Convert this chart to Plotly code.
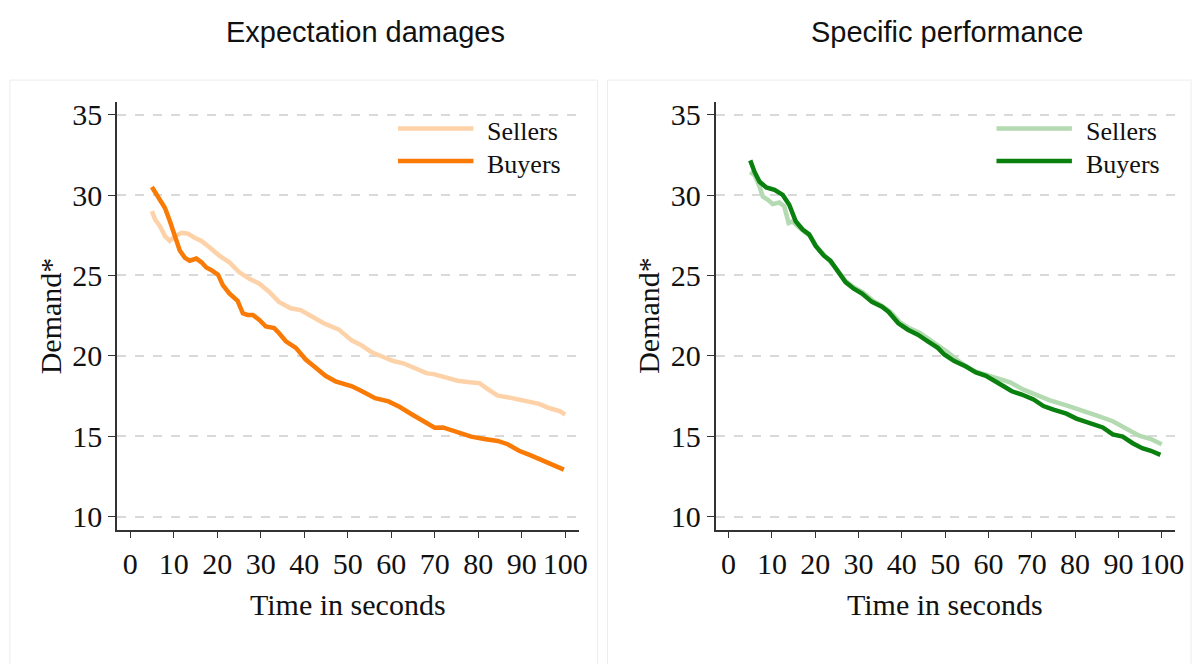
import plotly.graph_objects as go

# Average demand over time, by role and contract remedy
ed_seller_t = [5, 5.7, 6.85, 8, 9.1, 10.3, 11.8, 13.3, 14.8, 16.4, 18.3, 20.5, 22.8, 25.1, 27.4,
               29.7, 32, 34.2, 36.9, 39.2, 41.9, 44.5, 47.9, 51, 53.3, 55.5, 58.2, 60.5, 62.8,
               65.4, 68.1, 70, 72.3, 75.3, 78, 80.3, 82.2, 84.5, 86.8, 89, 91.7, 94, 96.3, 97.8,
               98.9, 100]
ed_seller = [29.0, 28.5, 28.07, 27.45, 27.15, 27.45, 27.66, 27.6, 27.35, 27.15, 26.74, 26.23,
             25.82, 25.2, 24.8, 24.49, 23.98, 23.36, 22.96, 22.85, 22.44, 22.03, 21.65, 20.95,
             20.64, 20.23, 19.93, 19.68, 19.54, 19.23, 18.93, 18.85, 18.66, 18.46, 18.36, 18.31,
             17.94, 17.53, 17.43, 17.29, 17.17, 17.02, 16.76, 16.61, 16.55, 16.35]

ed_buyer_t = [5, 6.9, 8, 9.1, 10.3, 11.4, 12.6, 13.7, 15.2, 16.4, 17.5, 18.6, 20.2, 21.3, 22.8,
              24.7, 25.9, 27, 28.2, 29.7, 31.2, 33.1, 34.2, 35.8, 38.1, 40.3, 42.6, 44.9, 47.2,
              49.5, 51, 53.3, 56.3, 59.4, 62, 64.7, 67.4, 70, 71.9, 74.6, 78.4, 81.4, 84.5,
              86.8, 89.4, 92.1, 94.4, 96.6, 99.7]
ed_buyer = [30.5, 29.6, 29.2, 28.4, 27.35, 26.55, 26.1, 25.92, 26.05, 25.82, 25.5, 25.35, 25.05,
            24.4, 23.88, 23.42, 22.65, 22.55, 22.55, 22.24, 21.83, 21.73, 21.42, 20.91, 20.5,
            19.79, 19.28, 18.76, 18.42, 18.25, 18.11, 17.8, 17.37, 17.17, 16.82, 16.37, 15.96,
            15.53, 15.55, 15.29, 14.98, 14.83, 14.71, 14.51, 14.1, 13.81, 13.55, 13.24, 12.93]

sp_seller_t = [5, 6, 7.15, 7.9, 9.1, 10.2, 11.7, 12.85, 13.85, 14.8, 15.9, 17.5, 19, 20.5, 22.5,
               24.5, 27, 29, 31, 33.5, 35.5, 37.5, 39.5, 41.5, 44, 47.5, 50.6, 53.6, 56.6, 59.7,
               62.7, 65, 68.1, 71.2, 74.2, 78, 81.1, 84.9, 88.7, 91.7, 94.8, 97.5, 100]
sp_seller = [31.44, 31.24, 30.52, 29.91, 29.7, 29.44, 29.54, 29.3, 28.27, 28.37, 28.07, 27.75,
             27.4, 26.75, 26.15, 25.55, 24.65, 24.25, 23.95, 23.4, 23.1, 22.7, 22.1, 21.75,
             21.45, 20.81, 20.23, 19.58, 19.07, 18.8, 18.56, 18.36, 17.9, 17.53, 17.23, 16.92,
             16.61, 16.3, 15.94, 15.49, 15.04, 14.83, 14.51]

sp_buyer_t = [5, 6, 7.15, 8.7, 10.6, 12.5, 14, 15.5, 17.1, 18.6, 20.1, 22, 23.5, 25.1, 27, 28.9,
              30.8, 33.1, 35.4, 36.9, 39.2, 41.4, 43.7, 46, 48.3, 49.8, 52.1, 54.8, 57.1, 59.4,
              61.6, 63.5, 65.4, 67.7, 70.4, 72.7, 75, 78, 80.3, 83.4, 86.4, 88.7, 91, 93.3,
              95.5, 97.5, 99.7]
sp_buyer = [32.16, 31.44, 30.83, 30.48, 30.32, 30.01, 29.4, 28.37, 27.86, 27.56, 26.84, 26.23,
            25.92, 25.31, 24.59, 24.18, 23.88, 23.36, 23.06, 22.75, 22.03, 21.63, 21.32, 20.91,
            20.5, 20.09, 19.68, 19.34, 18.97, 18.76, 18.45, 18.11, 17.8, 17.6, 17.29, 16.88,
            16.66, 16.41, 16.1, 15.84, 15.55, 15.12, 14.98, 14.57, 14.26, 14.1, 13.85]

panel_titles = ["Expectation damages", "Specific performance"]
series_names = ["Sellers", "Buyers"]
x_ticks = [0, 10, 20, 30, 40, 50, 60, 70, 80, 90, 100]
y_ticks = [10, 15, 20, 25, 30, 35]

ORANGE_LIGHT, ORANGE = "#FDD2A8", "#F97A05"
GREEN_LIGHT, GREEN = "#B3DAB0", "#0A800F"

W, H = 1200, 664
SERIF = "Liberation Serif"

fig = go.Figure()

panels = [
    dict(xa="x", ya="y", dom=[118 / W, 583 / W], box=[10, 602], title_x=368,
         data=[(ed_seller_t, ed_seller, ORANGE_LIGHT), (ed_buyer_t, ed_buyer, ORANGE)]),
    dict(xa="x2", ya="y2", dom=[721 / W, 1184 / W], box=[612, 1200], title_x=954,
         data=[(sp_seller_t, sp_seller, GREEN_LIGHT), (sp_buyer_t, sp_buyer, GREEN)]),
]

ydom = [1 - 532 / H, 1 - 99 / H]

for i, p in enumerate(panels):
    for name, (t, v, col) in zip(series_names, p["data"]):
        fig.add_trace(go.Scatter(x=t, y=v, mode="lines", name=name, xaxis=p["xa"], yaxis=p["ya"],
                                 line=dict(color=col, width=4.5), showlegend=False))

    # panel frame
    fig.add_shape(type="rect", xref="paper", yref="paper",
                  x0=p["box"][0] / W, x1=p["box"][1] / W, y0=-0.02, y1=1 - 77 / H,
                  line=dict(color="#ececec", width=1), fillcolor="rgba(0,0,0,0)", layer="below")

    # panel title
    fig.add_annotation(text=panel_titles[i], xref="paper", yref="paper",
                       x=p["title_x"] / W, y=1 - 28 / H,
                       showarrow=False, xanchor="center", yanchor="middle",
                       font=dict(family="Liberation Sans, Arial", size=29, color="#111"))

    # axis titles
    xc = (p["dom"][0] + p["dom"][1]) / 2
    fig.add_annotation(text="Time in seconds", xref="paper", yref="paper", x=xc, y=1 - 608 / H,
                       showarrow=False, xanchor="center", yanchor="middle",
                       font=dict(family=SERIF, size=30, color="#111"))
    fig.add_annotation(text="Demand*", xref="paper", yref="paper",
                       x=(p["dom"][0] * W - 67) / W, y=(ydom[0] + ydom[1]) / 2,
                       showarrow=False, textangle=-90, xanchor="center", yanchor="middle",
                       font=dict(family=SERIF, size=30, color="#111"))

    # legend key
    left = p["dom"][0] * W
    for j, (name, (_, _, col)) in enumerate(zip(series_names, p["data"])):
        ly = [126, 159][j]
        fig.add_shape(type="line", xref="paper", yref="paper",
                      x0=(left + 283) / W, x1=(left + 359) / W, y0=1 - ly / H, y1=1 - ly / H,
                      line=dict(color=col, width=4.5))
        fig.add_annotation(text=name, xref="paper", yref="paper",
                           x=(left + 371) / W, y=1 - (ly + 3) / H, showarrow=False,
                           xanchor="left", yanchor="middle",
                           font=dict(family=SERIF, size=26, color="#111"))

axis_common = dict(showline=True, linecolor="#333", linewidth=1.5, ticks="outside",
                   ticklen=7, tickwidth=1.2, tickcolor="#333", zeroline=False,
                   tickfont=dict(family=SERIF, size=30, color="#111"))

for i, p in enumerate(panels):
    sfx = "" if i == 0 else str(i + 1)
    fig.update_layout(**{
        "xaxis" + sfx: dict(domain=p["dom"], range=[-3, 103.1], tickvals=x_ticks,
                            showgrid=False, anchor=p["ya"], **axis_common),
        "yaxis" + sfx: dict(domain=ydom, range=[9.2, 35.8], tickvals=y_ticks,
                            showgrid=True, gridcolor="#d9d9d9", gridwidth=1.5, griddash="dash",
                            anchor=p["xa"], **axis_common),
    })

fig.update_layout(width=W, height=H, margin=dict(l=0, r=0, t=0, b=0),
                  paper_bgcolor="white", plot_bgcolor="white", showlegend=False)

fig.write_html("out.html")
